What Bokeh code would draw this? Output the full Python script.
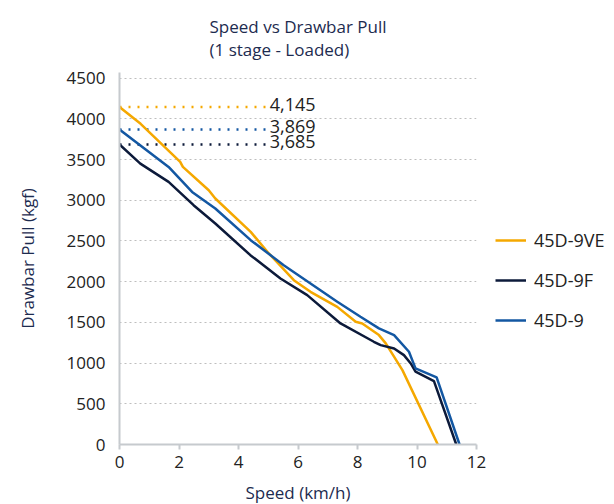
from bokeh.plotting import figure
from bokeh.models import Range1d, Legend, LegendItem, SingleIntervalTicker, NumeralTickFormatter
from bokeh.embed import file_html
from bokeh.resources import INLINE
from bokeh.core.properties import value

# ---------------- data ----------------
title_lines = ["Speed vs Drawbar Pull", "(1 stage - Loaded)"]
series_names = ["45D-9VE", "45D-9F", "45D-9"]
series_colors = ["#F5A800", "#0C1A3A", "#1357A2"]

ve_speed = [0, 0.71, 2.04, 2.13, 3.0, 3.22, 4.41, 5.02, 5.86, 6.42, 7.32, 7.94, 8.16, 8.72, 8.95, 9.51, 10.7]
ve_pull = [4145, 3940, 3471, 3410, 3124, 3022, 2612, 2347, 2019, 1876, 1691, 1507, 1487, 1344, 1242, 914, 0]

f_speed = [0, 0.70, 1.65, 2.49, 3.22, 4.40, 5.41, 6.31, 7.43, 8.55, 8.78, 9.23, 9.56, 9.79, 9.95, 10.57, 11.32]
f_pull = [3685, 3451, 3226, 2940, 2715, 2326, 2040, 1835, 1487, 1262, 1221, 1180, 1098, 996, 894, 779, 0]

std_speed = [0, 1.65, 2.44, 3.22, 4.41, 5.52, 7.32, 8.10, 8.72, 9.23, 9.73, 9.95, 10.66, 11.43]
std_pull = [3869, 3410, 3103, 2899, 2510, 2203, 1753, 1569, 1426, 1344, 1139, 935, 825, 0]

max_pull = [4145, 3869, 3685]
max_pull_labels = ["4,145", "3,869", "3,685"]
max_colors = ["#F5A800", "#1357A2", "#0C1A3A"]
marker_end_speed = 4.95

FONT = "Open Sans"
NAVY = "#1D2B4F"

p = figure(frame_width=357, frame_height=372, output_backend="svg", toolbar_location=None,
           x_range=Range1d(0, 12), y_range=Range1d(0, 4570),
           min_border_left=119, min_border_right=10, min_border_top=72, min_border_bottom=52)

p.title.text = "\n".join(title_lines)
p.title.align = "center"
p.title.text_font = FONT
p.title.text_font_size = "17px"
p.title.text_font_style = "normal"
p.title.text_color = NAVY
p.title.standoff = 24

p.outline_line_color = None
p.xgrid.grid_line_color = None
p.ygrid.grid_line_color = "#BEBEBE"
p.ygrid.grid_line_dash = "2 3"
p.ygrid.grid_line_width = 1

p.xaxis.ticker = SingleIntervalTicker(interval=2)
p.yaxis.ticker = SingleIntervalTicker(interval=500)
p.yaxis.formatter = NumeralTickFormatter(format="0")

for ax in (p.xaxis[0], p.yaxis[0]):
    ax.axis_line_color = "#C6CACE"
    ax.axis_line_width = 2
    ax.minor_tick_line_color = None
    ax.major_label_text_font = FONT
    ax.major_label_text_font_size = "17px"
    ax.major_label_text_color = "#222222"
    ax.axis_label_text_font = FONT
    ax.axis_label_text_font_size = "17px"
    ax.axis_label_text_font_style = "normal"
    ax.axis_label_text_color = NAVY

p.xaxis.axis_label = "Speed (km/h)"
p.yaxis.axis_label = "Drawbar Pull (kgf)"
p.xaxis.major_tick_line_color = "#C6CACE"
p.xaxis.major_tick_line_width = 2
p.xaxis.major_tick_out = 5
p.xaxis.major_tick_in = 0
p.xaxis.major_label_standoff = 6
p.xaxis.axis_label_standoff = 10
p.yaxis.major_tick_line_color = None
p.yaxis.major_label_standoff = 8
p.yaxis.axis_label_standoff = 25

# reference dotted lines and labels
p.segment(x0=[0] * 3, y0=max_pull, x1=[marker_end_speed] * 3, y1=max_pull,
          line_color=max_colors, line_width=2.5, line_dash="2 7")
p.text(x=[marker_end_speed] * 3, y=max_pull, text=max_pull_labels,
       x_offset=3, y_offset=-3, text_baseline="middle", text_align="left",
       text_font=value(FONT), text_font_size="18px", text_color="#222222")

r1 = p.line(ve_speed, ve_pull, line_color=series_colors[0], line_width=2.5)
r2 = p.line(f_speed, f_pull, line_color=series_colors[1], line_width=2.5)
r3 = p.line(std_speed, std_pull, line_color=series_colors[2], line_width=2.5)

legend = Legend(items=[LegendItem(label=series_names[0], renderers=[r1]),
                       LegendItem(label=series_names[1], renderers=[r2]),
                       LegendItem(label=series_names[2], renderers=[r3])],
                location=(19, 112), border_line_color=None, background_fill_alpha=0,
                padding=0, margin=0, spacing=16, glyph_width=31, glyph_height=20,
                label_height=20, label_standoff=8,
                label_text_font=FONT, label_text_font_size="18px", label_text_color="#222222")
p.add_layout(legend, "right")

open("out.html", "w").write(file_html(p, INLINE))
